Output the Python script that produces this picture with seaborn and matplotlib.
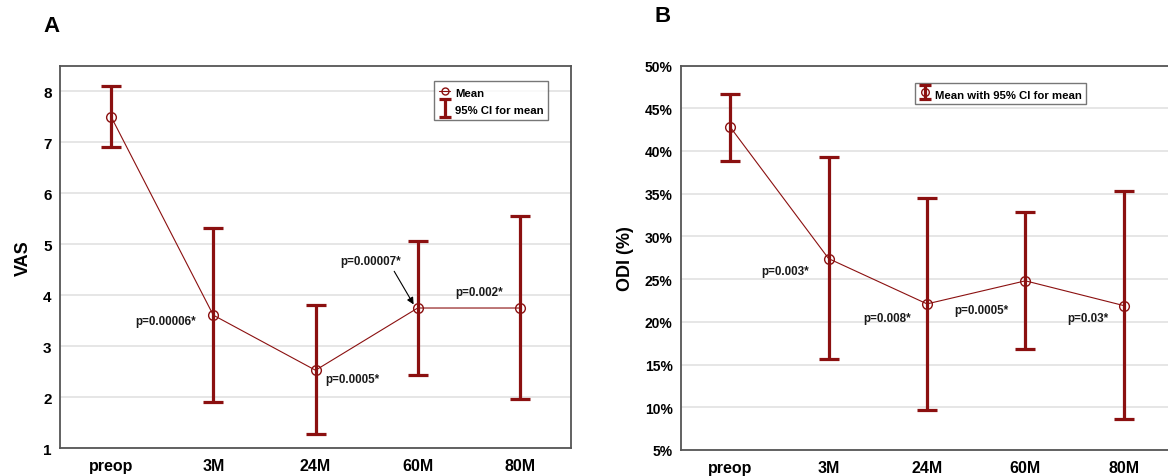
import numpy as np
import matplotlib
matplotlib.use("Agg")
import matplotlib.pyplot as plt
from matplotlib.lines import Line2D
from matplotlib.legend_handler import HandlerTuple, HandlerErrorbar
from matplotlib.container import ErrorbarContainer
import seaborn as sns

# ---------------- data ----------------
categories = ["preop", "3M", "24M", "60M", "80M"]

vas_mean = [7.50, 3.61, 2.53, 3.75, 3.75]
vas_lo = [6.90, 1.91, 1.28, 2.43, 1.96]
vas_hi = [8.10, 5.32, 3.81, 5.07, 5.56]
vas_ticks = [1, 2, 3, 4, 5, 6, 7, 8]

odi_mean = [42.8, 27.4, 22.1, 24.8, 21.9]
odi_lo = [38.8, 15.7, 9.7, 16.8, 8.6]
odi_hi = [46.7, 39.3, 34.5, 32.9, 35.3]
odi_ticks = [5, 10, 15, 20, 25, 30, 35, 40, 45, 50]
odi_tick_labels = ["5%", "10%", "15%", "20%", "25%", "30%", "35%", "40%", "45%", "50%"]

vas_pvals = ["p=0.00006*", "p=0.0005*", "p=0.00007*", "p=0.002*"]
odi_pvals = ["p=0.003*", "p=0.008*", "p=0.0005*", "p=0.03*"]

# ---------------- style ----------------
sns.set_style("white")
plt.rcParams["font.family"] = ["Liberation Sans", "DejaVu Sans"]
plt.rcParams["text.color"] = "black"
plt.rcParams["axes.labelcolor"] = "black"
RED = "#8b1010"
SPINE = "#555555"
GRID = "#e2e2e2"

W, H = 1168, 477
fig = plt.figure(figsize=(W / 100, H / 100), dpi=100)


def px_axes(l, r, t, b):
    return fig.add_axes([l / W, 1 - b / H, (r - l) / W, (b - t) / H])


axA = px_axes(60, 571, 66.7, 449.3)
axB = px_axes(681, 1173, 66.5, 451)


def draw_panel(ax, mean, lo, hi):
    mean = np.asarray(mean)
    lo = np.asarray(lo)
    hi = np.asarray(hi)
    x = np.arange(len(categories))
    ax.errorbar(x, mean, yerr=[mean - lo, hi - mean], fmt="none",
                ecolor=RED, elinewidth=2.3, capsize=7.5, capthick=2.3,
                zorder=3)
    sns.pointplot(x=categories, y=list(mean), ax=ax, color=RED, markers="o",
                  linestyles="-", errorbar=None, linewidth=0.8,
                  markersize=7, markeredgewidth=1.0,
                  markerfacecolor="none", zorder=4)
    ax.set_xlim(-0.5, len(categories) - 0.5)
    ax.grid(axis="y", color=GRID, linewidth=1.2, zorder=0)
    ax.grid(axis="x", visible=False)
    ax.set_axisbelow(True)
    for s in ax.spines.values():
        s.set_color(SPINE)
        s.set_linewidth(1.3)
        s.set_visible(True)
    ax.tick_params(axis="x", direction="in", length=3, color=SPINE,
                   labelcolor="black", labelsize=11.5, pad=7)
    ax.tick_params(axis="y", direction="out", length=3, color=SPINE,
                   labelcolor="black", labelsize=10.5, pad=3)
    ax.set_xlabel("")


draw_panel(axA, vas_mean, vas_lo, vas_hi)
draw_panel(axB, odi_mean, odi_lo, odi_hi)

# ---- panel A axes ----
axA.set_ylim(1, 8.5)
axA.set_yticks(vas_ticks)
axA.set_yticklabels([str(t) for t in vas_ticks], fontweight="bold", fontsize=11)
axA.set_ylabel("VAS", fontsize=13, fontweight="bold", labelpad=8)

# ---- panel B axes ----
axB.set_ylim(5, 50)
axB.set_yticks(odi_ticks)
axB.set_yticklabels(odi_tick_labels, fontweight="bold", fontsize=10)
axB.set_ylabel("ODI (%)", fontsize=13, fontweight="bold", labelpad=8)
for lab in axB.get_xticklabels() + axA.get_xticklabels():
    lab.set_fontweight("bold")
    lab.set_fontsize(11.5)

# ---- annotations ----
tkw = dict(fontsize=8.4, fontweight="bold", color="#1a1a1a", zorder=5)
axA.text(0.83, 3.50, vas_pvals[0], ha="right", va="center", **tkw)
axA.text(2.10, 2.36, vas_pvals[1], ha="left", va="center", **tkw)
axA.text(2.24, 4.68, vas_pvals[2], ha="left", va="center", **tkw)
axA.text(3.60, 4.06, vas_pvals[3], ha="center", va="center", **tkw)
axA.annotate("", xy=(2.96, 3.82), xytext=(2.77, 4.47),
             arrowprops=dict(arrowstyle="-|>", color="black", lw=0.8,
                             mutation_scale=10, shrinkA=0, shrinkB=0))

axB.text(0.56, 25.9, odi_pvals[0], ha="center", va="center", **tkw)
axB.text(1.59, 20.5, odi_pvals[1], ha="center", va="center", **tkw)
axB.text(2.55, 21.4, odi_pvals[2], ha="center", va="center", **tkw)
axB.text(3.63, 20.4, odi_pvals[3], ha="center", va="center", **tkw)

# ---- legend proxies (hidden axes) ----
dummy = fig.add_axes([0, 0, 0.001, 0.001])
eb_proxy = dummy.errorbar([0], [0], yerr=[[1], [1]], fmt="none", ecolor=RED,
                          elinewidth=2.3, capsize=4, capthick=2.3)
dummy.set_visible(False)

hmapA = {ErrorbarContainer: HandlerErrorbar(xerr_size=0.3, yerr_size=0.8)}
hmapB = {ErrorbarContainer: HandlerErrorbar(xerr_size=0.3, yerr_size=0.62),
         tuple: HandlerTuple(ndivide=1, pad=0)}

mean_handle = Line2D([], [], color=RED, marker="o", markersize=5,
                     markerfacecolor="none", markeredgewidth=1.0, linewidth=0.8)
legA = axA.legend([mean_handle, eb_proxy], ["Mean", "95% CI for mean"],
                  handler_map=hmapA,
                  loc="upper right", bbox_to_anchor=(0.955, 0.960),
                  borderaxespad=0, frameon=True, fancybox=False,
                  handlelength=1.0, handleheight=1.4, handletextpad=0.4,
                  labelspacing=0.35, borderpad=0.4,
                  prop=dict(size=8.2, weight="bold"))
legA.get_frame().set_edgecolor(SPINE)
legA.get_frame().set_linewidth(1.0)

dot_handle = Line2D([], [], color=RED, marker="o", markersize=5.5,
                    markerfacecolor="none", markeredgewidth=1.0, linestyle="none")
legB = axB.legend([(eb_proxy, dot_handle)], ["Mean with 95% CI for mean"],
                  handler_map=hmapB,
                  loc="upper right", bbox_to_anchor=(0.823, 0.954),
                  borderaxespad=0, frameon=True, fancybox=False,
                  handlelength=1.0, handleheight=1.4, handletextpad=0.4,
                  borderpad=0.35, prop=dict(size=8.2, weight="bold"))
legB.get_frame().set_edgecolor(SPINE)
legB.get_frame().set_linewidth(1.0)

# ---- panel letters ----
fig.text(52 / W, 1 - 27 / H, "A", fontsize=16, fontweight="bold",
         ha="center", va="center")
fig.text(663 / W, 1 - 16 / H, "B", fontsize=16, fontweight="bold",
         ha="center", va="center")

fig.savefig("out.png", dpi=100)
